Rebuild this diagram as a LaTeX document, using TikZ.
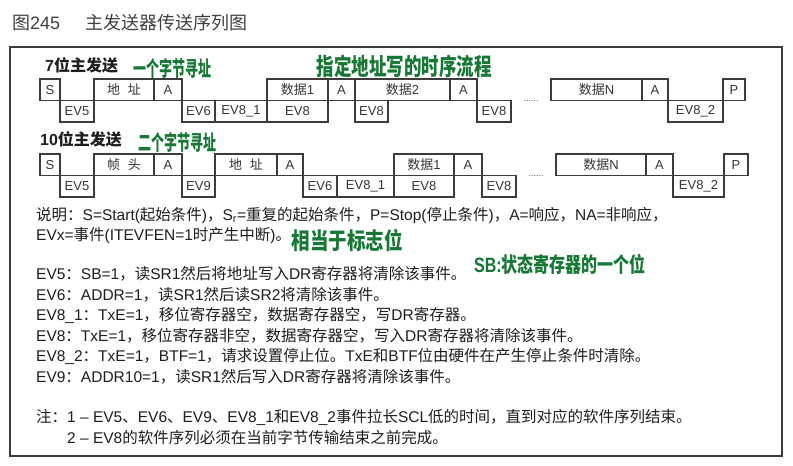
\documentclass[tikz,border=0pt]{standalone}
\usepackage{graphicx}
\usepackage{fontspec}
\setmainfont{Liberation Sans}
\newfontfamily\lfont{Liberation Sans}
\newfontfamily\cfont{Noto Sans CJK SC}
\newcount\cjkc
\def\setcjkrange#1#2{\cjkc=#1\relax\loop\XeTeXcharclass\cjkc=7\relax\ifnum\cjkc<#2\advance\cjkc by 1\repeat}
\setcjkrange{"3000}{"303F}
\setcjkrange{"4E00}{"9FFF}
\setcjkrange{"FF00}{"FFEF}
\XeTeXinterchartoks 0 7 = {\cfont}
\XeTeXinterchartoks 1 7 = {\cfont}
\XeTeXinterchartoks 2 7 = {\cfont}
\XeTeXinterchartoks 3 7 = {\cfont}
\XeTeXinterchartoks 4095 7 = {\cfont}
\XeTeXinterchartoks 7 0 = {\lfont}
\XeTeXinterchartoks 7 1 = {\lfont}
\XeTeXinterchartoks 7 2 = {\lfont}
\XeTeXinterchartoks 7 3 = {\lfont}
\XeTeXinterchartoks 7 4095 = {\lfont}
\XeTeXinterchartokenstate=1
\definecolor{annot}{RGB}{22,120,52}
\definecolor{ink}{RGB}{30,30,30}
\definecolor{boxline}{RGB}{60,60,60}
\tikzset{
  cell/.style={draw=boxline, line width=1.1bp, inner sep=0pt, outer sep=0pt,
    text=ink!90, font=\fontsize{13bp}{15bp}\selectfont},
  body/.style={anchor=base west, inner sep=0pt, text=ink,
    font=\fontsize{15.5bp}{18bp}\selectfont},
  rowlabel/.style={anchor=base west, inner sep=0pt, text=ink,
    font=\fontsize{16bp}{18bp}\selectfont\bfseries},
  note/.style={inner sep=0pt, text=annot, font=\bfseries},
  dotsty/.style={inner sep=0pt, text=ink!80, font=\fontsize{9bp}{10bp}\selectfont},
}
\newcommand\cellat[6]{\node[cell,minimum width={(#3-#2)*1bp},minimum height={(#5-#4)*1bp}] (#1) at ({(#2+#3)/2},{(#4+#5)/2}) {#6};}
\begin{document}
\begin{tikzpicture}[x=1bp,y=-1bp]
\useasboundingbox (0,0) rectangle (793,466);
\fill[white] (0,0) rectangle (793,466);
% title
\node[anchor=base west, inner sep=0pt, text=ink!85, font=\fontsize{18bp}{20bp}\selectfont] (title1) at (12,30) {图245};
\node[anchor=base west, inner sep=0pt, text=ink!85, font=\fontsize{18bp}{20bp}\selectfont] (title2) at (85,30) {主发送器传送序列图};
% frame
\draw[boxline, line width=1.3bp] (10,47) rectangle (782,456);
% row labels
\node[rowlabel] (lab7) at (45,72) {7位主发送};
\node[rowlabel] (lab10) at (40,146) {10位主发送};
% row 1
\cellat{a1}{40}{60}{79}{100.5}{S}
\cellat{a2}{60}{94}{100.5}{122}{EV5}
\cellat{a3}{94}{154}{79}{100.5}{地\hspace{0.6em}址}
\cellat{a4}{154}{182}{79}{100.5}{A}
\cellat{a5}{182}{215}{100.5}{122}{EV6}
\cellat{a6}{215}{267}{100.5}{122}{EV8\_1}
\cellat{a7}{267}{328}{79}{100.5}{数据1}
\cellat{a8}{267}{328}{100.5}{122}{EV8}
\cellat{a9}{328}{355}{79}{100.5}{A}
\cellat{a10}{355}{450}{79}{100.5}{数据2}
\cellat{a11}{355}{388}{100.5}{122}{EV8}
\cellat{a12}{450}{477}{79}{100.5}{A}
\cellat{a13}{477}{511}{100.5}{122}{EV8}
\node[dotsty] (adots) at (531,101) {......};
\cellat{a14}{551}{642}{79}{100.5}{数据N}
\cellat{a15}{642}{668}{79}{100.5}{A}
\cellat{a16}{668}{723}{100.5}{122}{EV8\_2}
\cellat{a17}{723}{745}{79}{100.5}{P}
% row 2
\cellat{b1}{40}{60}{154}{175.5}{S}
\cellat{b2}{60}{94}{175.5}{197}{EV5}
\cellat{b3}{94}{154}{154}{175.5}{帧\hspace{0.6em}头}
\cellat{b4}{154}{182}{154}{175.5}{A}
\cellat{b5}{182}{215}{175.5}{197}{EV9}
\cellat{b6}{215}{277}{154}{175.5}{地\hspace{0.6em}址}
\cellat{b7}{277}{303}{154}{175.5}{A}
\cellat{b8}{303}{337}{175.5}{197}{EV6}
\cellat{b9}{337}{394}{175.5}{197}{EV8\_1}
\cellat{b10}{394}{454}{154}{175.5}{数据1}
\cellat{b11}{394}{454}{175.5}{197}{EV8}
\cellat{b12}{454}{482}{154}{175.5}{A}
\cellat{b13}{482}{516}{175.5}{197}{EV8}
\node[dotsty] (bdots) at (536,176) {......};
\cellat{b14}{556}{646}{154}{175.5}{数据N}
\cellat{b15}{646}{673}{154}{175.5}{A}
\cellat{b16}{673}{724}{175.5}{197}{EV8\_2}
\cellat{b17}{724}{748}{154}{175.5}{P}
% body text
\node[body] (t1) at (36,220.5) {说明：S=Start(起始条件)，S\textsubscript{r}=重复的起始条件，P=Stop(停止条件)，A=响应，NA=非响应，};
\node[body] (t2) at (36,241) {EVx=事件(ITEVFEN=1时产生中断)。};
\node[body] (t3) at (36,280) {EV5：SB=1，读SR1然后将地址写入DR寄存器将清除该事件。};
\node[body] (t4) at (36,300.5) {EV6：ADDR=1，读SR1然后读SR2将清除该事件。};
\node[body] (t5) at (36,321) {EV8\_1：TxE=1，移位寄存器空，数据寄存器空，写DR寄存器。};
\node[body] (t6) at (36,341.5) {EV8：TxE=1，移位寄存器非空，数据寄存器空，写入DR寄存器将清除该事件。};
\node[body] (t7) at (36,362) {EV8\_2：TxE=1，BTF=1，请求设置停止位。TxE和BTF位由硬件在产生停止条件时清除。};
\node[body] (t8) at (36,382.5) {EV9：ADDR10=1，读SR1然后写入DR寄存器将清除该事件。};
\node[body] (t9) at (36,422) {注：1 – EV5、EV6、EV9、EV8\_1和EV8\_2事件拉长SCL低的时间，直到对应的软件序列结束。};
\node[body] (t10) at (67,443) {2 – EV8的软件序列必须在当前字节传输结束之前完成。};
% handwritten notes
\node[note, font=\fontsize{13bp}{15bp}\selectfont\bfseries] (n1) at (172,68) {\scalebox{1}[1.6]{一个字节寻址}};
\node[note, font=\fontsize{17.5bp}{19bp}\selectfont\bfseries] (n2) at (404,66) {\scalebox{1}[1.35]{指定地址写的时序流程}};
\node[note, font=\fontsize{13bp}{15bp}\selectfont\bfseries] (n3) at (177,142) {\scalebox{1}[1.6]{二个字节寻址}};
\node[note, font=\fontsize{18.5bp}{20bp}\selectfont\bfseries] (n4) at (347,240) {\scalebox{1}[1.25]{相当于标志位}};
\node[note, font=\fontsize{16bp}{18bp}\selectfont\bfseries] (n5) at (560,264) {\scalebox{1}[1.3]{SB:状态寄存器的一个位}};
\end{tikzpicture}
\end{document}
